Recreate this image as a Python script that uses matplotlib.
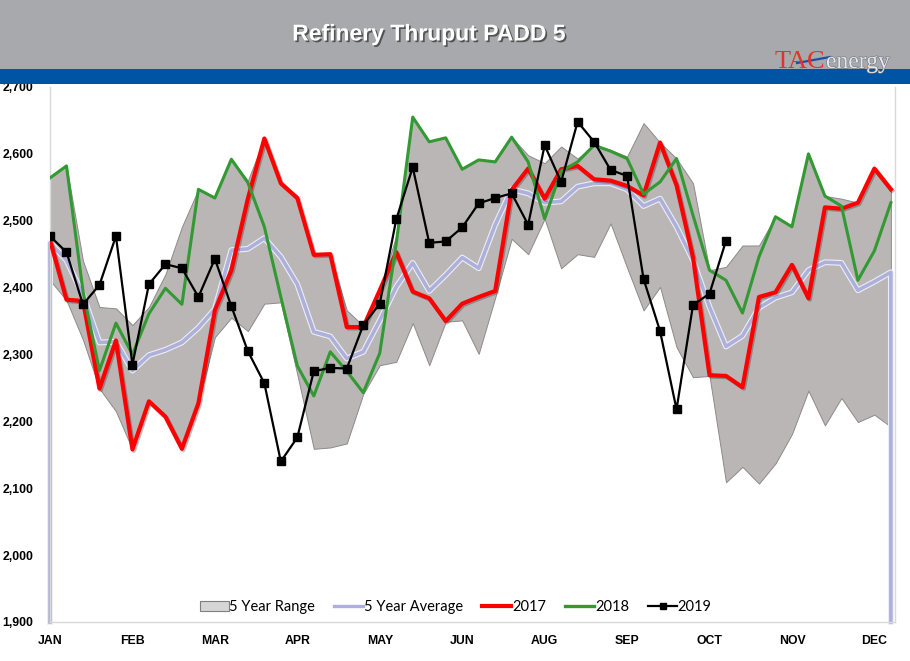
import numpy as np
import matplotlib
matplotlib.use("Agg")
import matplotlib.pyplot as plt
from matplotlib.patches import Rectangle, Patch
from matplotlib.lines import Line2D
import matplotlib.patheffects as pe

# weekly refinery thruput, PADD 5 (kb/d), week index 0..51
range_hi = [2565, 2582, 2440, 2371, 2369, 2344, 2371, 2420, 2491, 2547,
            2535, 2592, 2560, 2623, 2558, 2535, 2450, 2450, 2366, 2343,
            2396, 2478, 2655, 2618, 2624, 2577, 2591, 2588, 2625, 2598,
            2586, 2611, 2593, 2613, 2606, 2596, 2646, 2617, 2593, 2556,
            2426, 2431, 2463, 2463, 2506, 2491, 2601, 2537, 2533, 2527,
            2578, 2547]
range_lo = [2411, 2381, 2322, 2249, 2215, 2158, 2229, 2207, 2159, 2227,
            2326, 2355, 2335, 2376, 2378, 2270, 2159, 2161, 2167, 2241,
            2284, 2289, 2347, 2284, 2349, 2351, 2301, 2385, 2473, 2450,
            2503, 2429, 2450, 2446, 2496, 2430, 2366, 2401, 2311, 2266,
            2268, 2109, 2132, 2107, 2137, 2181, 2246, 2194, 2235, 2199,
            2210, 2192]
avg5 = [2467, 2441, 2389, 2318, 2319, 2276, 2299, 2307, 2318, 2340,
        2368, 2456, 2458, 2474, 2446, 2405, 2334, 2327, 2294, 2304,
        2351, 2401, 2437, 2395, 2419, 2445, 2429, 2494, 2547, 2541,
        2527, 2529, 2551, 2556, 2556, 2547, 2522, 2533, 2491, 2441,
        2371, 2312, 2328, 2370, 2385, 2393, 2426, 2438, 2437, 2396,
        2409, 2423]
y2017 = [2471, 2382, 2380, 2249, 2321, 2158, 2230, 2207, 2159, 2227,
         2366, 2426, 2533, 2623, 2556, 2534, 2449, 2450, 2341, 2341,
         2396, 2453, 2394, 2384, 2350, 2376, 2386, 2395, 2546, 2578,
         2533, 2577, 2582, 2562, 2560, 2552, 2538, 2617, 2553, 2445,
         2269, 2268, 2251, 2386, 2393, 2434, 2384, 2520, 2518, 2527,
         2578, 2547]
y2018 = [2564, 2582, 2395, 2276, 2347, 2300, 2361, 2399, 2375, 2547,
         2534, 2592, 2557, 2491, 2386, 2283, 2238, 2304, 2275, 2243,
         2302, 2466, 2655, 2618, 2624, 2577, 2591, 2588, 2625, 2588,
         2503, 2574, 2588, 2613, 2604, 2593, 2540, 2558, 2593, 2508,
         2426, 2411, 2362, 2446, 2506, 2491, 2600, 2537, 2522, 2411,
         2455, 2527]
y2019 = [2477, 2453, 2375, 2404, 2477, 2285, 2405, 2435, 2429, 2386,
         2443, 2372, 2305, 2257, 2140, 2176, 2275, 2280, 2279, 2344,
         2376, 2502, 2580, 2467, 2469, 2490, 2526, 2534, 2541, 2494,
         2613, 2558, 2648, 2618, 2576, 2567, 2413, 2335, 2218, 2374,
         2391, 2470]
month_labels = ['JAN', 'FEB', 'MAR', 'APR', 'MAY', 'JUN', 'AUG', 'SEP', 'OCT', 'NOV', 'DEC']
ymin, ymax = 1900, 2700

weeks = np.arange(len(avg5))
weeks19 = np.arange(len(y2019))

label_font = ['Liberation Sans', 'DejaVu Sans']

fig = plt.figure(figsize=(9.10, 6.61), dpi=100)

# header bands
fig.patches.append(Rectangle((0, 1 - 69 / 661), 1, 69 / 661, transform=fig.transFigure,
                             facecolor='#A7A9AC', edgecolor='none', zorder=0))
fig.patches.append(Rectangle((0, 1 - 84 / 661), 1, 15 / 661, transform=fig.transFigure,
                             facecolor='#0054A4', edgecolor='none', zorder=0))
fig.text(0.471, 1 - 34 / 661, 'Refinery Thruput PADD 5', color='white', fontsize=16.5,
         fontweight='bold', ha='center', va='center', family=['Liberation Sans', 'DejaVu Sans'],
         path_effects=[pe.withSimplePatchShadow(offset=(1.2, -1.2), shadow_rgbFace='#4A4A4A', alpha=0.9)])

# logo
fig.text(775 / 910, 1 - 68 / 661, 'TAC', color='#E2332B', fontsize=19,
         family=['Liberation Serif', 'DejaVu Serif'], ha='left', va='baseline')
fig.text(826 / 910, 1 - 68 / 661, 'energy', color='#E4E6EA', fontsize=17,
         family=['Liberation Serif', 'DejaVu Serif'], ha='left', va='baseline',
         path_effects=[pe.withStroke(linewidth=0.8, foreground='#6D7480')])
fig.lines.append(Line2D([797 / 910, 830 / 910], [1 - 63 / 661, 1 - 57 / 661],
                        transform=fig.transFigure, color='#1F4FA0', lw=1.6))

ax = fig.add_axes([50 / 910, 1 - 622 / 661, 845 / 910, 535 / 661])

ax.fill_between(weeks, range_lo, range_hi, facecolor='#BAB6B6', edgecolor='#8E8A8A',
                linewidth=0.7, zorder=1)
ax.plot(np.r_[weeks[0], weeks, weeks[-1]], np.r_[ymin, avg5, ymin], color='#ADB0DA', lw=2.6,
        zorder=2, clip_on=False,
        path_effects=[pe.Stroke(linewidth=4.2, foreground='#EDEDF5'), pe.Normal()])
ax.plot(weeks, y2017, color='#FF0000', lw=3.0, zorder=3,
        path_effects=[pe.SimpleLineShadow(offset=(1, -1), alpha=0.25), pe.Normal()])
ax.plot(weeks, y2018, color='#339933', lw=2.2, zorder=4)
ax.plot(weeks19, y2019, color='black', lw=1.6, marker='s', markersize=6, zorder=5)

ax.set_xlim(0, 51.25)
ax.set_ylim(ymin, ymax)
ax.set_yticks(np.arange(ymin, ymax + 1, 100))
ax.set_yticklabels([f'{v:,}' for v in range(ymin, ymax + 1, 100)])
ax.set_xticks(np.arange(0, 51, 5))
ax.set_xticklabels(month_labels)
ax.tick_params(length=0)
ax.tick_params(axis='y', pad=12)
ax.tick_params(axis='x', pad=9)
for lab in ax.get_xticklabels() + ax.get_yticklabels():
    lab.set_family(label_font)
    lab.set_fontweight('bold')
    lab.set_fontsize(8.8)

for side in ['left', 'right', 'bottom']:
    ax.spines[side].set_color('#D9D9D9')
    ax.spines[side].set_linewidth(1)
ax.spines['top'].set_visible(False)

handles = [
    Patch(facecolor='#D6D6D6', edgecolor='#7F7F7F', linewidth=0.8, label='5 Year Range'),
    Line2D([], [], color='#ADB0DA', lw=2.4, label='5 Year Average'),
    Line2D([], [], color='#FF0000', lw=3.0, label='2017'),
    Line2D([], [], color='#339933', lw=2.4, label='2018'),
    Line2D([], [], color='black', lw=1.6, marker='s', markersize=5, label='2019'),
]
ax.legend(handles=handles, loc='center', bbox_to_anchor=(0.48, 0.028), ncol=5, frameon=False,
          prop={'family': ['Lato', 'DejaVu Sans'], 'size': 10.5}, handlelength=2.0,
          handletextpad=0.05, columnspacing=1.3, handleheight=0.6)

fig.savefig('out.png', dpi=100, facecolor='white')
